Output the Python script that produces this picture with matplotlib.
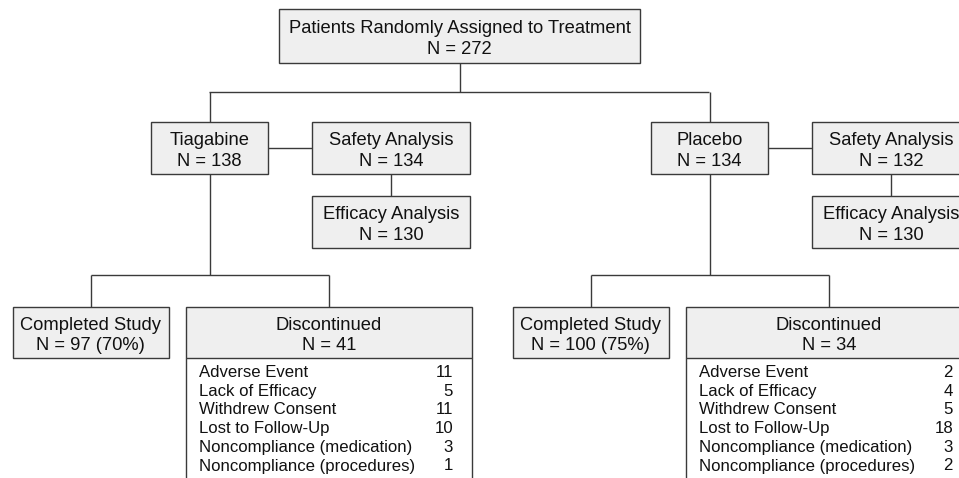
import matplotlib.pyplot as plt
from matplotlib.patches import Rectangle

total_n = 272
arms = ['Tiagabine', 'Placebo']
arm_n = [138, 134]
safety_n = [134, 132]
efficacy_n = [130, 130]
completed_n = [97, 100]
completed_pct = [70, 75]
discontinued_n = [41, 34]
reasons = ['Adverse Event', 'Lack of Efficacy', 'Withdrew Consent',
           'Lost to Follow-Up', 'Noncompliance (medication)',
           'Noncompliance (procedures)']
reason_counts = [[11, 5, 11, 10, 3, 1],
                 [2, 4, 5, 18, 3, 2]]

plt.rcParams['font.family'] = ['Liberation Sans', 'DejaVu Sans']
LINE = '#3a3a3a'
FILL = '#efefef'
FS = 13.2
LW = 1.0

fig = plt.figure(figsize=(9.59, 4.78), dpi=100)
ax = fig.add_axes([0, 0, 1, 1])
ax.set_xlim(0, 959)
ax.set_ylim(478, 0)
ax.axis('off')


def box(x0, y0, x1, y1, lines, fill=FILL):
    ax.add_patch(Rectangle((x0, y0), x1 - x0, y1 - y0, facecolor=fill,
                           edgecolor=LINE, lw=LW, zorder=2))
    cx = (x0 + x1) / 2
    cy = (y0 + y1) / 2
    ax.text(cx, cy - 3, lines[0], ha='center', va='baseline', fontsize=FS,
            color='#111111', zorder=3)
    ax.text(cx, cy + 18, lines[1], ha='center', va='baseline', fontsize=FS,
            color='#111111', zorder=3)


def line(xs, ys):
    ax.plot(xs, ys, color=LINE, lw=LW, zorder=1, solid_capstyle='butt')


def nlab(n):
    return 'N = %d' % n


# top box
box(279, 9, 640, 63, ['Patients Randomly Assigned to Treatment', nlab(total_n)])
line([460, 460], [63, 92])
line([209, 709, ], [92, 92])

for i in range(len(arms)):
    dx = 500 * i
    cx = 209.5 + dx
    line([cx, cx], [92, 122])
    box(151 + dx, 122, 268 + dx, 174, [arms[i], nlab(arm_n[i])])
    # safety / efficacy
    line([268 + dx, 312 + dx], [148, 148])
    box(312 + dx, 122, 470 + dx, 174, ['Safety Analysis', nlab(safety_n[i])])
    line([391 + dx, 391 + dx], [174, 196])
    box(312 + dx, 196, 470 + dx, 248, ['Efficacy Analysis', nlab(efficacy_n[i])])
    # branch down
    line([cx, cx], [174, 275])
    cc = 90.5 + dx
    dc = 329 + dx
    line([cc, dc], [275, 275])
    line([cc, cc], [275, 307])
    line([dc, dc], [275, 307])
    box(12.5 + dx, 307, 168.5 + dx, 358,
        ['Completed Study', 'N = %d (%d%%)' % (completed_n[i], completed_pct[i])])
    # discontinued with reason list
    x0 = 186 + dx
    x1 = 472 + dx
    line([x0, x0], [358, 482])
    line([x1, x1], [358, 482])
    box(x0, 307, x1, 358, ['Discontinued', nlab(discontinued_n[i])])
    for j in range(len(reasons)):
        y = 377 + 18.7 * j
        ax.text(x0 + 13, y, reasons[j], ha='left', va='baseline',
                fontsize=12.1, color='#111111')
        ax.text(x1 - 19, y, str(reason_counts[i][j]), ha='right',
                va='baseline', fontsize=12.1, color='#111111')

fig.savefig('out.png', dpi=100)
